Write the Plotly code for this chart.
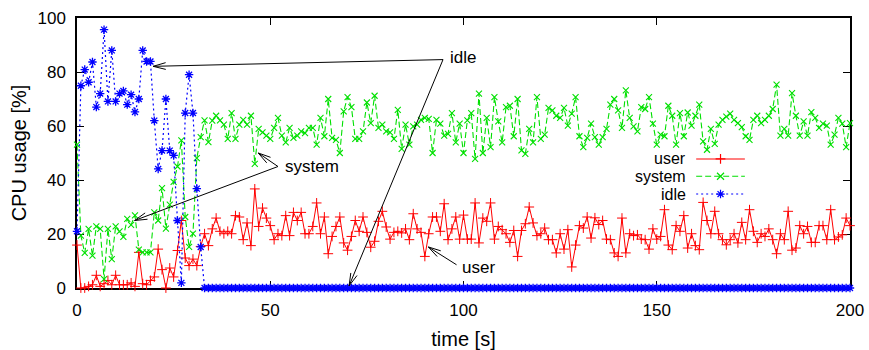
import math
import plotly.graph_objects as go

time_s = list(range(0, 201))

user = [
    15.9, 0, 0, 0.6, 1.2, 4.7, 0.6, 1.6, 2.8, 1.2,
    4.7, 1.2, 1.2, 1.2, 1.9, 0.6, 13.2, 1.6, 1.2, 2.8,
    4.1, 14.4, 6.8, 0, 7.4, 4.1, 13.9, 25.0, 11.1, 8.3,
    10.7, 8.3, 15.4, 20.1, 15.7, 21.9, 25.9, 21.0, 20.1, 21.0,
    20.1, 26.8, 26.3, 17.9, 24.1, 15.7, 36.7, 22.8, 29.6, 25.9,
    23.1, 17.9, 20.1, 19.4, 26.8, 19.4, 28.0, 25.0, 28.0, 20.1,
    20.1, 22.8, 31.5, 20.1, 26.3, 12.7, 19.1, 22.8, 26.3, 16.7,
    14.0, 19.1, 25.0, 21.0, 26.3, 20.6, 15.1, 17.3, 24.7, 28.4,
    22.6, 18.1, 20.6, 21.0, 20.4, 21.9, 17.9, 27.5, 21.9, 20.6,
    11.7, 20.1, 26.3, 26.3, 21.0, 31.2, 17.9, 21.9, 26.3, 18.1,
    27.0, 18.1, 18.1, 31.5, 16.7, 25.9, 24.7, 31.5, 18.1, 22.8,
    21.6, 20.1, 16.9, 21.3, 11.7, 21.3, 23.8, 30.0, 24.1, 19.4,
    20.1, 22.2, 17.9, 17.9, 13.0, 20.1, 14.4, 21.6, 7.8, 15.9,
    23.1, 22.2, 26.3, 18.5, 26.0, 23.5, 25.0, 18.1, 17.9, 13.0,
    11.7, 25.9, 13.0, 20.1, 19.4, 19.7, 18.1, 17.9, 14.4, 21.9,
    18.1, 19.1, 29.0, 15.9, 14.2, 23.1, 21.0, 26.8, 14.8, 20.1,
    15.7, 14.2, 31.7, 25.0, 20.1, 28.4, 20.1, 17.9, 16.0, 17.9,
    20.1, 16.7, 24.3, 17.9, 29.0, 21.0, 16.9, 20.1, 19.1, 21.9,
    17.9, 12.7, 20.1, 17.9, 28.4, 14.0, 14.8, 23.1, 20.1, 22.8,
    16.9, 16.9, 23.1, 23.1, 17.9, 29.0, 17.9, 18.9, 19.7, 25.9,
    23.1,
]

system = [
    53.1, 19.4, 13.0, 21.9, 12.0, 22.8, 21.9, 3.3, 21.9, 10.7,
    22.8, 21.0, 18.9, 25.6, 23.4, 26.9, 14.2, 13.2, 13.2, 13.2,
    28.0, 25.0, 37.0, 22.0, 30.9, 39.3, 45.0, 54.7, 26.3, 15.2,
    20.1, 48.1, 55.9, 62.1, 54.0, 62.0, 63.8, 62.1, 60.5, 55.2,
    64.8, 55.2, 60.5, 62.3, 60.5, 63.8, 46.0, 58.9, 57.6, 56.4,
    55.2, 59.3, 63.0, 56.4, 53.9, 59.3, 55.6, 56.4, 58.0, 57.4,
    59.3, 59.3, 53.1, 63.0, 56.2, 70.0, 55.6, 54.9, 50.0, 65.4,
    70.7, 67.0, 55.2, 55.2, 58.0, 68.7, 61.1, 71.2, 59.3, 60.5,
    58.0, 57.6, 55.2, 66.0, 51.5, 60.5, 53.1, 59.9, 60.5, 62.3,
    63.0, 62.6, 50.0, 62.3, 60.9, 56.4, 57.1, 64.8, 53.9, 60.9,
    50.0, 62.1, 64.8, 47.8, 72.0, 50.0, 63.0, 52.2, 70.7, 61.7,
    53.9, 67.0, 67.5, 56.2, 70.0, 51.0, 49.7, 58.9, 53.9, 70.7,
    55.2, 56.8, 66.7, 65.8, 63.8, 63.0, 66.7, 60.1, 64.6, 70.7,
    56.2, 52.2, 55.6, 60.9, 55.9, 53.1, 55.9, 58.9, 67.9, 70.0,
    65.8, 59.3, 73.2, 63.0, 59.9, 58.0, 67.0, 66.3, 70.7, 60.9,
    53.1, 56.8, 56.2, 67.5, 63.8, 53.1, 64.8, 56.2, 65.0, 60.1,
    63.8, 67.9, 54.3, 51.2, 58.9, 53.4, 60.5, 62.3, 63.5, 64.6,
    62.3, 61.1, 59.6, 56.2, 54.9, 62.3, 63.8, 61.1, 62.3, 63.8,
    66.3, 75.3, 56.4, 58.9, 56.4, 72.2, 63.8, 56.4, 61.7, 56.4,
    65.1, 63.0, 59.3, 60.9, 60.1, 53.1, 56.8, 63.0, 60.9, 52.2,
    61.1,
]

idle_start = [
    21.0, 74.9, 80.9, 76.2, 83.7, 67.0, 72.0, 95.7, 69.1, 88.0,
    69.1, 72.0, 73.0, 67.9, 71.6, 65.2, 70.0, 88.0, 83.9, 83.9,
    62.0, 44.1, 50.9, 70.0, 50.9, 49.1, 25.0, 1.9, 64.8, 79.0,
    64.8, 36.8, 15.2,
]
idle = idle_start + [0.0] * (len(time_s) - len(idle_start))

x_ticks = [0, 50, 100, 150, 200]
y_ticks = [0, 20, 40, 60, 80, 100]

# annotation labels: (text, x, y) and arrows: (tail_x, tail_y, head_x, head_y)
label_texts = ["idle", "system", "user"]
label_x = [95.9, 53.3, 99.2]
label_y = [85.3, 44.9, 7.5]
arrows = [
    (94.7, 84.6, 19.7, 82.1),
    (94.7, 84.6, 70.4, 0.8),
    (52.0, 45.0, 46.9, 50.0),
    (52.0, 45.0, 14.9, 25.0),
    (98.2, 8.6, 90.9, 15.2),
]

FONT = "Liberation Sans, Arial, Helvetica, sans-serif"
RED = "#ff0000"
GREEN = "#00e000"
BLUE = "#0000ff"

W, H = 869, 350
ML, MR, MT, MB = 77, 19, 18, 62
PW = W - ML - MR
PH = H - MT - MB
XR = (0, 200)
YR = (0, 100)
sx = PW / (XR[1] - XR[0])
sy = PH / (YR[1] - YR[0])

fig = go.Figure()

fig.add_trace(go.Scatter(
    x=time_s, y=user, name="user", mode="lines+markers",
    line=dict(color=RED, width=1.0),
    marker=dict(symbol="cross-thin", size=7, color=RED, line=dict(color=RED, width=1.0)),
    cliponaxis=False, showlegend=False,
))
fig.add_trace(go.Scatter(
    x=time_s, y=system, name="system", mode="lines+markers",
    line=dict(color=GREEN, width=1.1, dash="6px,3px"),
    marker=dict(symbol="x-thin", size=6, color=GREEN, line=dict(color=GREEN, width=1.1)),
    cliponaxis=False, showlegend=False,
))
fig.add_trace(go.Scatter(
    x=time_s, y=idle, name="idle", mode="lines+markers",
    line=dict(color=BLUE, width=1.2, dash="2px,3px"),
    marker=dict(symbol="asterisk", size=7, color=BLUE, line=dict(color=BLUE, width=1.3)),
    cliponaxis=False, showlegend=False,
))

# manual gnuplot-style legend (text left, sample right) on an overlay axis
leg_names = ["user", "system", "idle"]
leg_colors = [RED, GREEN, BLUE]
leg_dash = ["solid", "6px,3px", "2px,3px"]
leg_sym = ["cross-thin", "x-thin", "asterisk"]
leg_rows = [0.478, 0.414, 0.348]
lx0, lx1, lxm, ltext = 0.801, 0.864, 0.8325, 0.789
for name, col, dsh, sym, ry in zip(leg_names, leg_colors, leg_dash, leg_sym, leg_rows):
    fig.add_trace(go.Scatter(
        x=[lx0, lx1], y=[ry, ry], mode="lines", xaxis="x2", yaxis="y2",
        line=dict(color=col, width=1.1, dash=dsh), showlegend=False, hoverinfo="skip",
    ))
    fig.add_trace(go.Scatter(
        x=[lxm], y=[ry], mode="markers", xaxis="x2", yaxis="y2",
        marker=dict(symbol=sym, size=7, color=col, line=dict(color=col, width=1.2)),
        showlegend=False, hoverinfo="skip",
    ))
    fig.add_annotation(x=ltext, y=ry, xref="x2", yref="y2", text=name, showarrow=False,
                       xanchor="right", yanchor="middle", borderpad=0,
                       font=dict(family=FONT, size=16, color="black"))

# arrows drawn as lines with open heads
shapes = []
head_len = 13.0
head_ang = math.radians(15)
for tx, ty, hx, hy in arrows:
    shapes.append(dict(type="line", xref="x", yref="y", x0=tx, y0=ty, x1=hx, y1=hy,
                       line=dict(color="black", width=1)))
    dxp = (tx - hx) * sx
    dyp = (ty - hy) * sy
    ang = math.atan2(dyp, dxp)
    for s in (-1, 1):
        a = ang + s * head_ang
        ex = hx + head_len * math.cos(a) / sx
        ey = hy + head_len * math.sin(a) / sy
        shapes.append(dict(type="line", xref="x", yref="y", x0=hx, y0=hy, x1=ex, y1=ey,
                           line=dict(color="black", width=1)))

for t, lx, ly in zip(label_texts, label_x, label_y):
    fig.add_annotation(x=lx, y=ly, xref="x", yref="y", text=t, showarrow=False,
                       xanchor="left", yanchor="middle",
                       font=dict(family=FONT, size=17, color="black"))

fig.update_layout(
    width=W, height=H,
    margin=dict(l=ML, r=MR, t=MT, b=MB, pad=0, autoexpand=False),
    paper_bgcolor="white", plot_bgcolor="white",
    font=dict(family=FONT, size=17, color="black"),
    shapes=shapes,
    showlegend=False,
    xaxis=dict(
        range=list(XR), tickvals=x_ticks, ticktext=[str(v) for v in x_ticks],
        ticks="inside", ticklen=7, tickwidth=1, tickcolor="black",
        showline=True, linecolor="black", linewidth=1.5, mirror="ticks",
        showgrid=False, zeroline=False, layer="below traces",
        ticklabelstandoff=6, automargin=False,
        title=dict(text="time [s]", font=dict(family=FONT, size=20), standoff=14),
        tickfont=dict(family=FONT, size=17),
    ),
    yaxis=dict(
        range=list(YR), tickvals=y_ticks, ticktext=[str(v) for v in y_ticks],
        ticks="inside", ticklen=7, tickwidth=1, tickcolor="black",
        showline=True, linecolor="black", linewidth=1.5, mirror="ticks",
        showgrid=False, zeroline=False, layer="below traces",
        ticklabelstandoff=6, automargin=False,
        title=dict(text="CPU usage [%]", font=dict(family=FONT, size=20), standoff=5),
        tickfont=dict(family=FONT, size=17),
    ),
    xaxis2=dict(overlaying="x", range=[0, 1], visible=False, fixedrange=True),
    yaxis2=dict(overlaying="y", range=[0, 1], visible=False, fixedrange=True),
)

fig.write_html(
    "out.html",
    config={"displayModeBar": False},
    post_script="document.body.style.margin='0px';document.body.style.overflow='hidden';",
)
